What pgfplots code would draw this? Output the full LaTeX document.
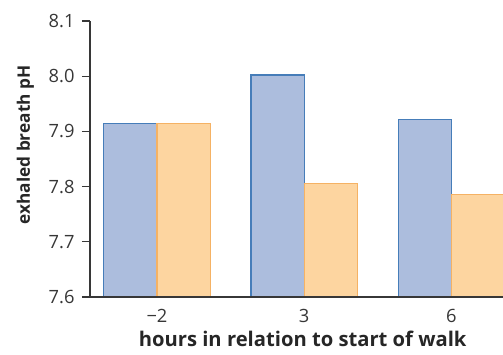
\documentclass[border=0pt]{standalone}
\usepackage{fontspec}
\setmainfont{Open Sans}
\usepackage{pgfplots}
\pgfplotsset{compat=1.18}
\definecolor{bfill}{RGB}{172,189,221}
\definecolor{bdraw}{RGB}{70,125,185}
\definecolor{ofill}{RGB}{253,213,160}
\definecolor{odraw}{RGB}{245,178,100}
\definecolor{axc}{RGB}{55,55,55}
\begin{document}
\begin{tikzpicture}
\begin{axis}[
  at={(0pt,0pt)}, anchor=south west,
  scale only axis, width=413pt, height=276pt,
  xmin=-0.455, xmax=2.35, ymin=7.6, ymax=8.1,
  axis lines=left, axis line style={axc, line width=1.2pt, -},
  axis on top,
  xtick={0,1,2}, xticklabels={−2,3,6},
  ytick={7.6,7.7,7.8,7.9,8.0,8.1},
  yticklabel style={/pgf/number format/fixed, /pgf/number format/fixed zerofill, /pgf/number format/precision=1, xshift=-4pt},
  /pgf/number format/assume math mode=true,
  tick align=outside, major tick length=8pt,
  ytick style={axc, line width=1.2pt},
  xtick style={draw=none},
  ticklabel style={font=\fontsize{18.3}{20}\selectfont, text=axc},
  xticklabel style={yshift=-1pt},
  xlabel={\textbf{hours in relation to start of walk}},
  ylabel={\textbf{exhaled breath pH}},
  xlabel style={font=\fontsize{20.2}{22}\selectfont, text=black!85, at={(axis description cs:0.515,-0.112)}, anchor=north},
  ylabel style={font=\fontsize{17.2}{19}\selectfont, text=black!85, at={(axis description cs:-0.127,0.551)}, anchor=south, rotate=0},
  ybar=0pt, bar width=0.362,
  clip=true,
]
\addplot[fill=bfill, draw=bdraw, line width=1.2pt, bar shift=-0.181] coordinates {(0,7.915) (1,8.002) (2,7.921)};
\addplot[fill=ofill, draw=odraw, line width=1.2pt, bar shift=0.181] coordinates {(0,7.915) (1,7.805) (2,7.786)};
\end{axis}
\pgfresetboundingbox
\path[use as bounding box] (-90pt,-58pt) rectangle (413pt,297pt);
\end{tikzpicture}
\end{document}
